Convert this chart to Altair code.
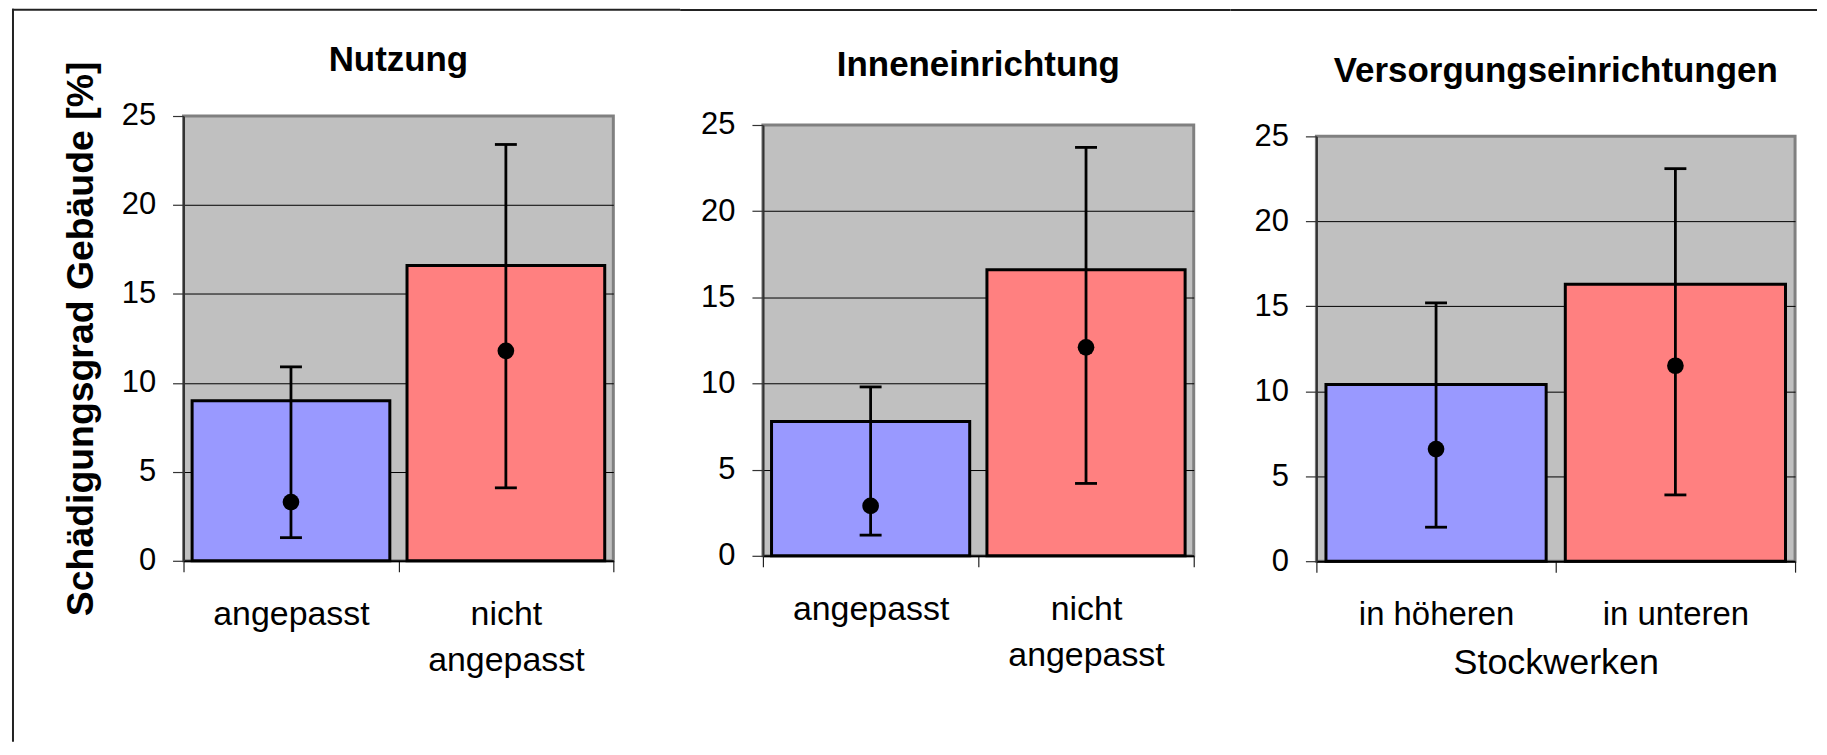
import altair as alt
import pandas as pd

# ---------------- data ----------------
panel_titles = ["Nutzung", "Inneneinrichtung", "Versorgungseinrichtungen"]
categories = [
    ["angepasst", "nicht angepasst"],
    ["angepasst", "nicht angepasst"],
    ["in höheren", "in unteren"],
]
bar_values = [[9.0, 16.6], [7.8, 16.6], [10.4, 16.3]]
point_values = [[3.3, 11.8], [2.9, 12.1], [6.6, 11.5]]
err_low = [[1.3, 4.1], [1.2, 4.2], [2.0, 3.9]]
err_high = [[10.9, 23.4], [9.8, 23.7], [15.2, 23.1]]
y_ticks = [0, 5, 10, 15, 20, 25]
y_title = "Schädigungsgrad Gebäude [%]"
x_title_last = "Stockwerken"

# ---------------- styling / layout ----------------
FONT = "Liberation Sans"
bar_colors = ["#9999FF", "#FF8080"]
widths = [431, 432, 480]
heights = [446, 432, 426]
plot_tops = [116.5, 125.3, 136.7]      # page y of each plot's top edge
plot_lefts = [183, 762, 1315]          # page x of each plot's left edge
title_baselines = [74.6, 79.4, 85.7]   # page y of title baselines
label_sizes = [34, 34, 33]
frame_y = 10                            # page y of outer frame top line
frame_x = 12                            # page x of outer frame left line
frame_bottom = 743
frame_segments = [(12, 680), (680, 1230), (1230, 1816)]
TITLE_EXTRA = 32


def make_panel(i):
    df = pd.DataFrame({
        "cat": categories[i],
        "val": bar_values[i],
        "pt": point_values[i],
        "lo": err_low[i],
        "hi": err_high[i],
    })
    base = alt.Chart(df)

    xaxis_kw = dict(
        labelAngle=0, labelFontSize=label_sizes[i], labelFont=FONT, labelColor="black",
        labelPadding=26, labelLineHeight=46, labelLimit=400,
        tickBand="extent", tickSize=11, tickColor="#222222", tickWidth=1.2,
        domainColor="black", domainWidth=2, grid=False,
        titleFontSize=36, titleFontWeight="normal", titleFont=FONT,
        titlePadding=15, titleColor="black",
    )
    if i < 2:
        xaxis_kw["labelExpr"] = "split(datum.label, ' ')"
    x_axis = alt.Axis(**xaxis_kw)
    x_title = x_title_last if i == 2 else None

    def X():
        return alt.X("cat:N", sort=categories[i],
                     scale=alt.Scale(paddingInner=0, paddingOuter=0),
                     axis=x_axis, title=x_title)

    y_axis = alt.Axis(
        values=y_ticks, tickSize=11, tickColor="#333333", tickWidth=1.2,
        domainColor="#333333", domainWidth=2,
        labelFontSize=31, labelFont=FONT, labelPadding=17, labelColor="black",
        grid=True, gridWidth=1,
        gridColor={"condition": {"test": "datum.value == 0 || datum.value == 25",
                                 "value": "rgba(0,0,0,0)"},
                   "value": "#000000"},
        titleFontSize=37.5, titleFontWeight="bold", titleFont=FONT,
        titlePadding=21, titleColor="black", titleLimit=800,
    )
    ttl = y_title if i == 0 else None

    def Y(field):
        return alt.Y(f"{field}:Q", scale=alt.Scale(domain=[0, 25], nice=False),
                     axis=y_axis, title=ttl)

    bars = base.mark_bar(stroke="black", strokeWidth=3,
                         width=alt.RelativeBandSize(0.92)).encode(
        x=X(), y=Y("val"),
        color=alt.Color("cat:N", scale=alt.Scale(domain=categories[i], range=bar_colors),
                        legend=None),
    )
    err = base.mark_rule(color="black", strokeWidth=2.8).encode(
        x=X(), y=Y("lo"), y2="hi:Q")
    cap_lo = base.mark_tick(color="black", size=22, thickness=2.8, opacity=1).encode(
        x=X(), y=Y("lo"))
    cap_hi = base.mark_tick(color="black", size=22, thickness=2.8, opacity=1).encode(
        x=X(), y=Y("hi"))
    pts = base.mark_circle(size=280, color="black", opacity=1).encode(
        x=X(), y=Y("pt"))

    # outer frame pieces (decoration, pixel placed)
    left = plot_lefts[i]
    top = plot_tops[i]
    one = alt.Chart(alt.Data(values=[{"k": 0}]))
    sx1, sx2 = frame_segments[i]
    layers = [
        one.mark_rule(color="#222222", strokeWidth=2, strokeCap="square").encode(
            x=alt.value(sx1 - left), x2=alt.value(sx2 - left),
            y=alt.value(frame_y - top)),
    ]
    # bottom extent of each panel (sets the vertical offset of the panel in the row)
    shift = top - plot_tops[0]
    bottom_rel = frame_bottom - plot_tops[0] - 2 * shift
    if i == 0:
        layers.append(
            one.mark_rule(color="#222222", strokeWidth=2, strokeCap="square").encode(
                x=alt.value(frame_x - left),
                y=alt.value(frame_y - top), y2=alt.value(bottom_rel)))
    else:
        layers.append(
            one.mark_rule(color="white", strokeWidth=2).encode(
                x=alt.value(0),
                y=alt.value(bottom_rel - 5), y2=alt.value(bottom_rel)))

    y1 = frame_y - top - 1
    off = y1 - TITLE_EXTRA - (title_baselines[i] - top)

    layers += [bars, err, cap_lo, cap_hi, pts]
    return alt.layer(*layers).properties(
        width=widths[i], height=heights[i],
        title=alt.TitleParams(panel_titles[i], fontSize=35, fontWeight="bold",
                              font=FONT, color="black", anchor="middle",
                              frame="group", baseline="alphabetic",
                              offset=round(off, 1)),
    )


chart = alt.hconcat(make_panel(0), make_panel(1), make_panel(2),
                    spacing=-4, center=True).properties(
    padding={"left": 2, "top": -3, "right": 0, "bottom": 0}
).configure(font=FONT).configure_view(
    fill="#C0C0C0", stroke="#808080", strokeWidth=3
)

chart.save("out.html", embed_options={"renderer": "svg", "actions": False})
